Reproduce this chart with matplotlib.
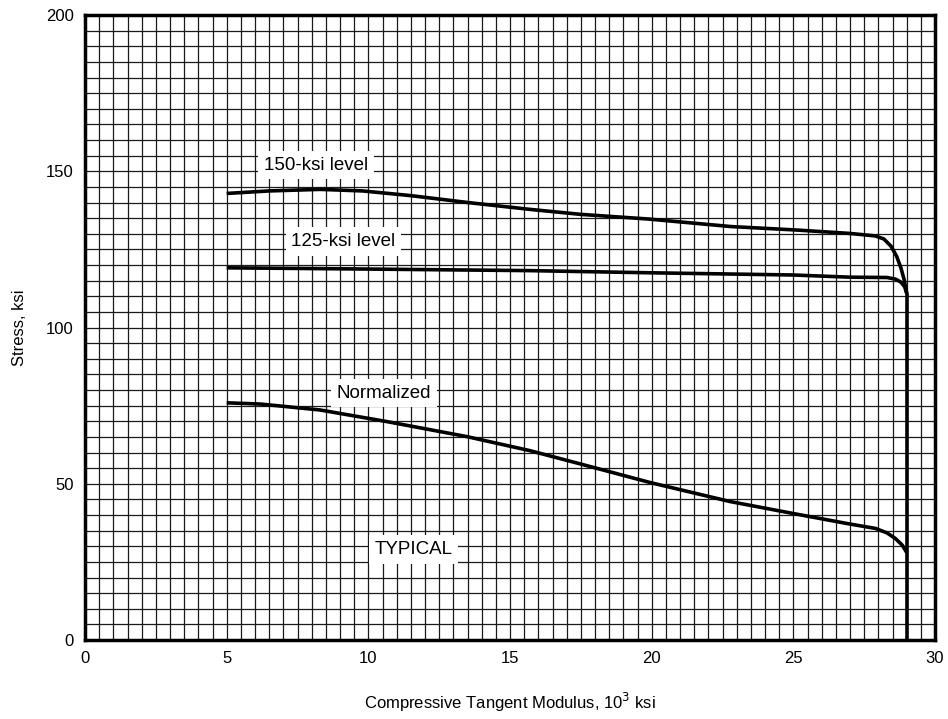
import matplotlib
matplotlib.use("Agg")
import matplotlib.pyplot as plt
import numpy as np

plt.rcParams["font.family"] = ["Liberation Sans", "DejaVu Sans"]

# --- Data ---
ksi150_x = [5, 6.5, 8.3, 9.8, 11.5, 13.5, 15.7, 17.5, 19.9, 22.8, 25.1, 27.0,
            27.9, 28.2, 28.45, 28.65, 28.8, 28.92, 29.0]
ksi150_y = [142.9, 143.7, 144.2, 143.7, 142.2, 140.0, 137.8, 136.2, 134.7, 132.3,
            131.2, 130.1, 129.3, 128.3, 126.0, 122.7, 119.0, 115.0, 111.0]

ksi125_x = [5, 10, 15.7, 20, 25, 27, 28.3, 28.6, 28.8, 28.93, 29.0]
ksi125_y = [119.1, 118.7, 118.2, 117.5, 116.8, 116.1, 116.0, 115.5, 114.5, 113.0, 111.0]

norm_x = [5, 6.2, 8.3, 10.65, 13.47, 15.7, 17.5, 19.94, 22.77, 25.1, 27.0,
          27.9, 28.3, 28.6, 28.85, 29.0]
norm_y = [75.9, 75.5, 73.6, 69.9, 65.1, 60.6, 56.3, 50.4, 44.3, 40.3, 37.1,
          35.7, 34.3, 32.5, 30.3, 28.0]

cutoff_x = [29, 29]
cutoff_y = [111, 0]

labels = ["150-ksi level", "125-ksi level", "Normalized", "TYPICAL"]
label_x = [8.15, 9.12, 10.55, 11.6]
label_y = [152, 127.5, 79, 29]

fig = plt.figure(figsize=(9.48, 7.19), dpi=100)
ax = fig.add_axes([85 / 948, 79 / 719, 850 / 948, 625 / 719])

for xs, ys in [(ksi150_x, ksi150_y), (ksi125_x, ksi125_y), (norm_x, norm_y),
               (cutoff_x, cutoff_y)]:
    ax.plot(xs, ys, color="black", linewidth=2.6, solid_capstyle="butt", zorder=3)

for txt, tx, ty in zip(labels, label_x, label_y):
    ax.text(tx, ty, txt, fontsize=13.5, ha="center", va="center", zorder=4,
            bbox=dict(facecolor="white", edgecolor="none", pad=4))

ax.set_xlim(0, 30)
ax.set_ylim(0, 200)
ax.set_xticks(np.arange(0, 31, 5))
ax.set_yticks(np.arange(0, 201, 50))
ax.set_xticks(np.arange(0, 30.01, 0.5), minor=True)
ax.set_yticks(np.arange(0, 200.01, 5), minor=True)
ax.grid(True, which="both", color="#1a1a1a", linewidth=0.9, zorder=1)
ax.set_axisbelow(True)
ax.tick_params(which="both", length=0, labelsize=12, pad=8)

for sp in ax.spines.values():
    sp.set_linewidth(2.5)

ax.set_xlabel("Compressive Tangent Modulus, 10$^{3}$ ksi", fontsize=12, labelpad=18)
ax.set_ylabel("Stress, ksi", fontsize=12, labelpad=14)

fig.savefig("out.png", dpi=100)
